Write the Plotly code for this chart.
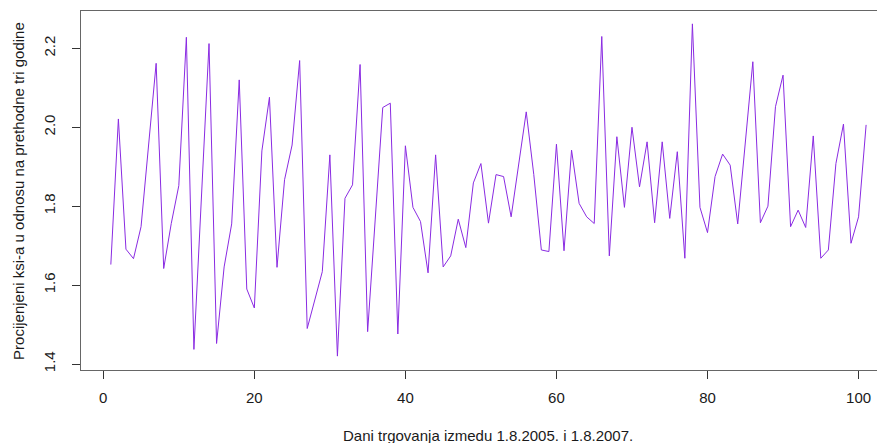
import plotly.graph_objects as go

days = list(range(1, 102))
xi_values = [
    1.652, 2.021, 1.691, 1.667, 1.748, 1.960, 2.162, 1.642, 1.756, 1.852,
    2.228, 1.437, 1.820, 2.212, 1.452, 1.646, 1.755, 2.120, 1.590, 1.542,
    1.940, 2.076, 1.645, 1.867, 1.955, 2.169, 1.490, 1.562, 1.634, 1.930,
    1.420, 1.820, 1.854, 2.159, 1.482, 1.765, 2.050, 2.061, 1.476, 1.953,
    1.797, 1.761, 1.631, 1.930, 1.646, 1.674, 1.767, 1.695, 1.859, 1.908,
    1.757, 1.880, 1.875, 1.773, 1.900, 2.039, 1.880, 1.689, 1.685, 1.957,
    1.687, 1.942, 1.807, 1.773, 1.756, 2.230, 1.674, 1.976, 1.797, 2.000,
    1.849, 1.963, 1.758, 1.963, 1.769, 1.938, 1.668, 2.262, 1.797, 1.733,
    1.875, 1.932, 1.904, 1.755, 1.960, 2.166, 1.758, 1.800, 2.052, 2.132,
    1.748, 1.790, 1.746, 1.978, 1.668, 1.689, 1.908, 2.008, 1.706, 1.773,
    2.006,
]
x_ticks = [0, 20, 40, 60, 80, 100]
y_ticks = [1.4, 1.6, 1.8, 2.0, 2.2]
y_tick_text = ["1.4", "1.6", "1.8", "2.0", "2.2"]
x_title = "Dani trgovanja izmedu 1.8.2005. i 1.8.2007."
y_title = "Procijenjeni ksi-a u odnosu na prethodne tri godine"

font = "Liberation Sans, Arial, sans-serif"
fsize = 15
tcolor = "#1a1a1a"

# page body has an 8px margin; figure is sized so the plot box sits where the
# reference puts it, with its right edge running off the window as in the reference
fig = go.Figure()
fig.add_trace(go.Scatter(
    x=days, y=xi_values, mode="lines",
    line=dict(color="#8A2BE2", width=1),
    showlegend=False, hoverinfo="skip",
))

fig.update_layout(
    width=877, height=435,
    margin=dict(l=73, r=0, t=3, b=73),
    paper_bgcolor="white", plot_bgcolor="white",
    font=dict(family=font, size=fsize, color=tcolor),
    xaxis=dict(
        range=[-2.95, 103.5], tickmode="array", tickvals=x_ticks,
        ticks="outside", ticklen=8, tickcolor="#333", tickwidth=1,
        showline=True, linecolor="#666", linewidth=1, mirror=True,
        showgrid=False, zeroline=False,
        tickfont=dict(family=font, size=fsize, color=tcolor),
        ticklabelstandoff=6,
    ),
    yaxis=dict(
        range=[1.3848, 2.2946], tickmode="array", tickvals=y_ticks,
        ticktext=y_tick_text, tickangle=-90,
        ticks="outside", ticklen=8, tickcolor="#333", tickwidth=1,
        showline=True, linecolor="#666", linewidth=1, mirror=False,
        showgrid=False, zeroline=False,
        tickfont=dict(family=font, size=fsize, color=tcolor),
        ticklabelstandoff=11,
    ),
    annotations=[
        dict(text=x_title, xref="x", yref="paper", x=51, y=-0.183,
             xanchor="center", yanchor="middle", showarrow=False,
             font=dict(family=font, size=fsize, color=tcolor)),
        dict(text=y_title, xref="paper", yref="paper", x=-0.0778, y=0.5,
             xanchor="center", yanchor="middle", showarrow=False,
             textangle=-90,
             font=dict(family=font, size=fsize, color=tcolor)),
    ],
)

fig.write_html("out.html")
